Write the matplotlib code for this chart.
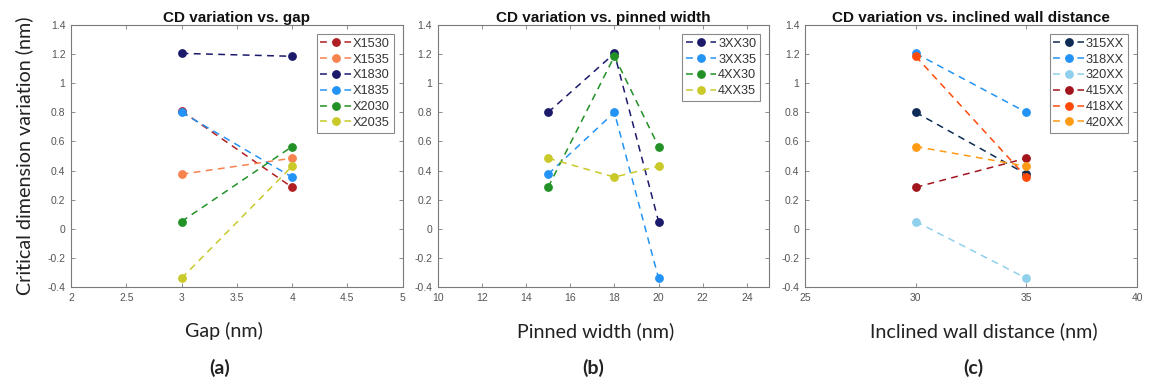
import matplotlib
matplotlib.use("Agg")
import matplotlib.pyplot as plt
from matplotlib.ticker import FuncFormatter, MultipleLocator

# ---------- datos ----------
gap_x = [3, 4]
gap_names = ["X1530", "X1535", "X1830", "X1835", "X2030", "X2035"]
gap_vals = [
    [0.81, 0.285],
    [0.375, 0.485],
    [1.205, 1.185],
    [0.80, 0.355],
    [0.05, 0.565],
    [-0.34, 0.43],
]
gap_colors = ["#b01e23", "#f7834f", "#1b1a6b", "#2393f5", "#229126", "#c9c92a"]

pin_x = [15, 18, 20]
pin_names = ["3XX30", "3XX35", "4XX30", "4XX35"]
pin_vals = [
    [0.80, 1.205, 0.05],
    [0.375, 0.80, -0.34],
    [0.285, 1.185, 0.565],
    [0.485, 0.355, 0.43],
]
pin_colors = ["#1b1a6b", "#2393f5", "#229126", "#c9c92a"]

wall_x = [30, 35]
wall_names = ["315XX", "318XX", "320XX", "415XX", "418XX", "420XX"]
wall_vals = [
    [0.80, 0.375],
    [1.205, 0.80],
    [0.05, -0.34],
    [0.285, 0.485],
    [1.185, 0.355],
    [0.565, 0.43],
]
wall_colors = ["#0d2b55", "#2393f5", "#8fd0ec", "#a3151d", "#ff4a0a", "#ff9b14"]

# ---------- estilo ----------
C_AX = "#7a7a7a"
C_TICK = "#555555"
LBL_FONT = ["Lato", "DejaVu Sans"]
TXT_FONT = ["Liberation Sans", "DejaVu Sans"]

fmt_g = FuncFormatter(lambda v, pos: f"{v:g}")


def _panel(ax, xs, names, vals, colors, title, xlim, xstep):
    for name, ys, col in zip(names, vals, colors):
        ax.plot(xs, ys, linestyle=(0, (4.5, 3.5)), linewidth=1.1, color=col,
                marker="o", markersize=5.3, markerfacecolor=col,
                markeredgecolor=col, label=name)
    ax.set_xlim(*xlim)
    ax.set_ylim(-0.4, 1.4)
    ax.xaxis.set_major_locator(MultipleLocator(xstep))
    ax.yaxis.set_major_locator(MultipleLocator(0.2))
    ax.xaxis.set_major_formatter(fmt_g)
    ax.yaxis.set_major_formatter(fmt_g)
    ax.tick_params(direction="in", top=True, right=True, length=3, width=0.6,
                   colors=C_AX, labelcolor=C_TICK, labelsize=7.5, pad=4)
    for lab in ax.get_xticklabels() + ax.get_yticklabels():
        lab.set_family(TXT_FONT)
    for sp in ax.spines.values():
        sp.set_color(C_AX)
        sp.set_linewidth(0.8)
    ax.set_title(title, fontsize=11, fontweight="bold", family=TXT_FONT,
                 color="#111111", pad=2)
    leg = ax.legend(loc="upper right", handlelength=2.4,
                    handletextpad=0.15, borderpad=0.3, labelspacing=0.3,
                    borderaxespad=0.7, fancybox=False, framealpha=1,
                    edgecolor="#8a8a8a", prop={"family": TXT_FONT, "size": 9.2})
    leg.get_frame().set_linewidth(0.8)
    for t in leg.get_texts():
        t.set_color("#333333")


fig = plt.figure(figsize=(11.5, 3.84), dpi=100)
ax_a = fig.add_axes([0.0617, 0.2526, 0.2885, 0.6823])
ax_b = fig.add_axes([0.3806, 0.2526, 0.2881, 0.6823])
ax_c = fig.add_axes([0.7000, 0.2526, 0.2887, 0.6823])

_panel(ax_a, gap_x, gap_names, gap_vals, gap_colors,
       "CD variation vs. gap", (2, 5), 0.5)
_panel(ax_b, pin_x, pin_names, pin_vals, pin_colors,
       "CD variation vs. pinned width", (10, 25), 2)
_panel(ax_c, wall_x, wall_names, wall_vals, wall_colors,
       "CD variation vs. inclined wall distance", (25, 40), 5)

ax_a.set_ylabel("Critical dimension variation (nm)", fontsize=14.2,
                family=LBL_FONT, color="#222222", labelpad=10)

# etiquetas de eje x y letras de panel
for xc_x, txt in ((224 / 1150, "Gap (nm)"), (596 / 1150, "Pinned width (nm)"),
                  (984 / 1150, "Inclined wall distance (nm)")):
    fig.text(xc_x, 1 - 331 / 384, txt, ha="center", va="center",
             fontsize=14.2, family=LBL_FONT, color="#222222")
for xc_x, txt in ((220 / 1150, "(a)"), (593 / 1150, "(b)"), (973 / 1150, "(c)")):
    fig.text(xc_x, 1 - 368 / 384, txt, ha="center", va="center",
             fontsize=14, fontweight="bold", family=LBL_FONT, color="#222222")

fig.savefig("out.png", dpi=100, facecolor="white")
plt.close(fig)
